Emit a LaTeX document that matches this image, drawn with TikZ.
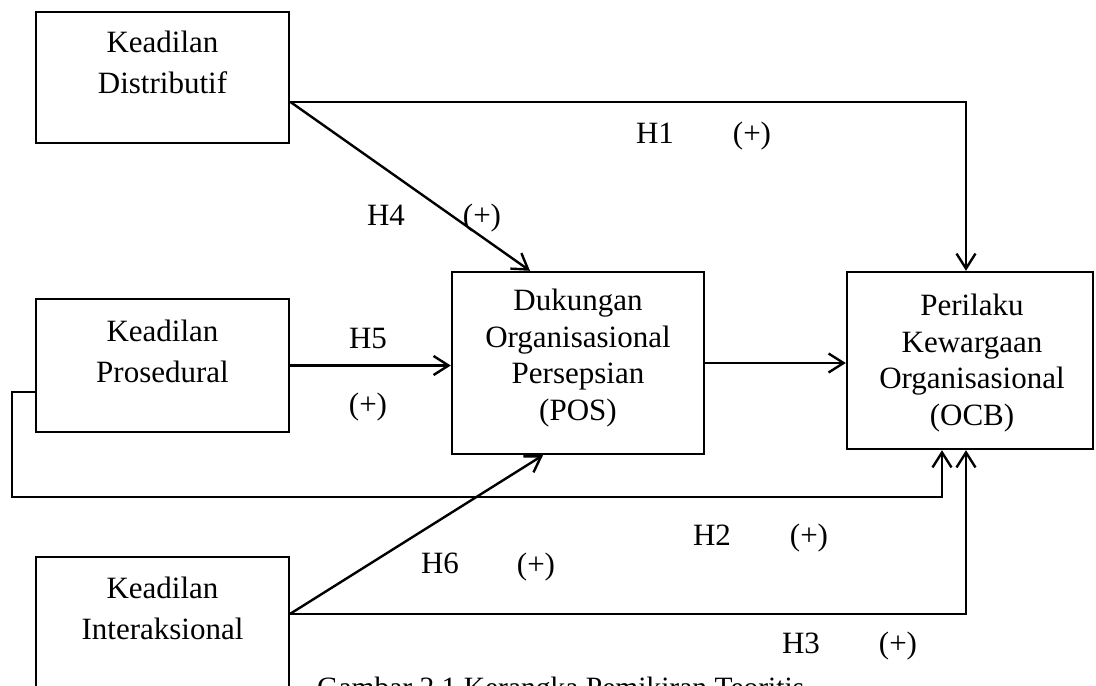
\documentclass[tikz,border=0pt]{standalone}
\usepackage{fontspec}
\setmainfont{Liberation Serif}
\usetikzlibrary{arrows.meta,calc}
\begin{document}
\begin{tikzpicture}[x=1pt,y=-1pt,
  box/.style={draw,line width=2.4pt,rectangle,inner sep=0pt},
  lbl/.style={font=\fontsize{31}{37}\selectfont,inner sep=0pt,anchor=base},
  txtA/.style={font=\fontsize{31}{41}\selectfont,align=center,inner sep=0pt,anchor=base},
  txtB/.style={font=\fontsize{31}{36.5}\selectfont,align=center,inner sep=0pt,anchor=base},
  conn/.style={line width=2.4pt,-{Straight Barb[length=15pt,width=19pt,line width=2.4pt]}}]
\useasboundingbox (0,0) rectangle (1096,686);
% boxes
\node[box,minimum width=253pt,minimum height=131pt] (d) at (162.5,77.5) {};
\node[box,minimum width=253pt,minimum height=133pt] (pr) at (162.5,365.5) {};
\node[box,minimum width=253pt,minimum height=163pt] (i) at (162.5,638.5) {};
\node[box,minimum width=252pt,minimum height=182pt] (p) at (578,363) {};
\node[box,minimum width=246pt,minimum height=177pt] (o) at (970,360.5) {};
% box texts (anchored at the baseline of the last line)
\node[txtA] (dt) at (162.5,93) {Keadilan\\Distributif};
\node[txtA] (prt) at (162.5,382) {Keadilan\\Prosedural};
\node[txtA] (it) at (162.5,639) {Keadilan\\Interaksional};
\node[txtB] (pt) at (578,420) {Dukungan\\Organisasional\\Persepsian\\(POS)};
\node[txtB] (ot) at (972,425) {Perilaku\\Kewargaan\\Organisasional\\(OCB)};
% labels
\node[lbl] (h1) at (655,143) {H1};
\node[lbl] (s1) at (752,143) {(+)};
\node[lbl] (h4) at (386,225) {H4};
\node[lbl] (s4) at (482,225) {(+)};
\node[lbl] (h5) at (368,348) {H5};
\node[lbl] (s5) at (368,414) {(+)};
\node[lbl] (h2) at (712,545) {H2};
\node[lbl] (s2) at (809,545) {(+)};
\node[lbl] (h6) at (440,573) {H6};
\node[lbl] (s6) at (536,574) {(+)};
\node[lbl] (h3) at (801,653) {H3};
\node[lbl] (s3) at (898,653) {(+)};
\node[font=\fontsize{29.5}{35}\selectfont,inner sep=0pt,anchor=base west] (cap) at (317,697) {Gambar 2.1 Kerangka Pemikiran Teoritis};
% junction coordinates
\coordinate (dj) at ($(d.north east)+(0,91)$);
\coordinate (prl) at ($(pr.north west)+(0,94)$);
\coordinate (loop) at (12,497);
\coordinate (ij) at ($(i.north east)+(0,58)$);
% connectors
\draw[conn] (dj) -| ([xshift=-4pt]o.north);
\draw[conn] (dj) -- ([xshift=-48pt]p.north);
\draw[conn] (pr.east) -- (pr.east -| p.west);
\draw[conn] (p.east) -- (p.east -| o.west);
\draw[conn] (prl) -| (loop) -| ([xshift=-28pt]o.south);
\draw[conn] (ij) -- ([xshift=-35pt]p.south);
\draw[conn] (ij) -| ([xshift=-4pt]o.south);
\end{tikzpicture}
\end{document}
